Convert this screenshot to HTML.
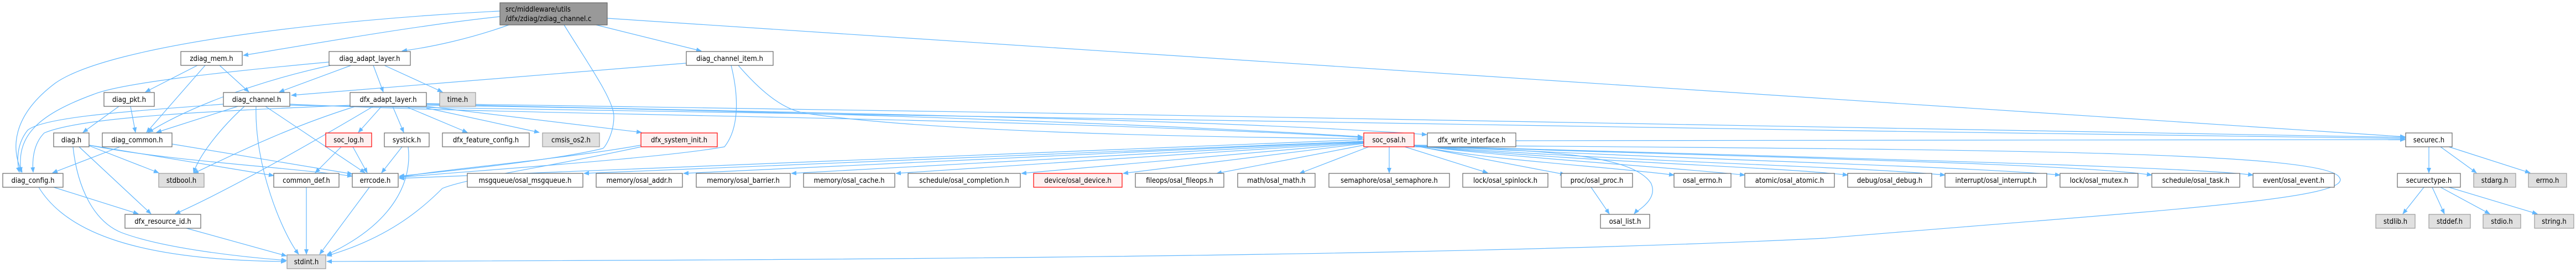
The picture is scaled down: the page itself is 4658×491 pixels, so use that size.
<!DOCTYPE html>
<html><head><meta charset="utf-8"><style>
html,body{margin:0;padding:0;background:#fff;}
svg{display:block;}
text{font-family:"DejaVu Sans Condensed","DejaVu Sans","Liberation Sans",sans-serif;font-size:13px;fill:#000;}
.n{fill:#fff;stroke:#666;stroke-width:1.2;}
.g{fill:#e0e0e0;stroke:#999;stroke-width:1.2;}
.r{fill:#fff0f0;stroke:#f00;stroke-width:1.2;}
.m{fill:#999;stroke:#666;stroke-width:1.2;}
path{fill:none;stroke:#63b8ff;stroke-width:1.2;marker-end:url(#a);}
</style></head><body>
<svg width="4658" height="491" viewBox="0 0 4658 491" xmlns="http://www.w3.org/2000/svg">
<defs><marker id="a" markerWidth="10" markerHeight="8" refX="9" refY="4" orient="auto" markerUnits="userSpaceOnUse"><polygon points="0,0 10,4 0,8" fill="#63b8ff"/></marker></defs>
<g>
<path d="M904,20 C600,35 200,80 100,150 C20,210 20,270 40,311"/>
<path d="M904,30 C760,45 560,80 440,100"/>
<path d="M920,45 C850,70 780,85 727,92"/>
<path d="M1078,45 L1268,92"/>
<path d="M1098,33 L4349,247"/>
<path d="M1020,45 C1060,110 1110,180 1110,210 C1110,240 1095,265 1090,268 C1000,290 800,310 722,318"/>
<path d="M1241,114 L527,172"/>
<path d="M1322,118 C1335,170 1338,230 1310,265 C1200,285 900,305 722,320"/>
<path d="M1335,118 C1380,170 1420,200 1460,205 C1700,240 2200,248 2464,250"/>
<path d="M595,112 C400,130 220,150 170,170 C60,210 30,250 38,311"/>
<path d="M598,118 C450,150 330,200 268,239"/>
<path d="M635,118 L505,166"/>
<path d="M675,118 L693,166"/>
<path d="M695,118 L800,166"/>
<path d="M357,118 L263,166"/>
<path d="M371,118 L265,239"/>
<path d="M397,118 L450,166"/>
<path d="M404,188 C250,200 80,210 50,235 C30,260 30,290 35,311"/>
<path d="M430,192 L283,239"/>
<path d="M442,192 C400,230 360,280 350,312"/>
<path d="M463,192 C460,300 510,420 540,459"/>
<path d="M480,192 L660,312"/>
<path d="M524,188 C1000,210 1800,210 2464,248"/>
<path d="M524,190 C1500,215 3000,230 4349,250"/>
<path d="M633,190 C400,200 150,210 80,240 C60,260 58,290 60,311"/>
<path d="M643,192 C520,230 420,280 350,313"/>
<path d="M675,192 C560,260 420,340 317,386"/>
<path d="M690,192 L648,239"/>
<path d="M710,192 L730,239"/>
<path d="M733,192 L845,239"/>
<path d="M771,195 L975,239"/>
<path d="M771,192 L1160,239"/>
<path d="M771,190 C1500,200 2200,230 2464,247"/>
<path d="M771,188 C1500,205 2200,215 2580,243"/>
<path d="M771,187 C2000,205 3500,230 4349,248"/>
<path d="M215,192 L150,239"/>
<path d="M236,192 L245,239"/>
<path d="M161,263 L287,312"/>
<path d="M161,262 L495,317"/>
<path d="M161,262 C300,290 500,300 637,318"/>
<path d="M143,265 L273,386"/>
<path d="M132,265 C140,340 170,400 220,420 C300,450 450,465 518,470"/>
<path d="M217,265 L95,312"/>
<path d="M311,260 L637,314"/>
<path d="M617,265 L570,312"/>
<path d="M638,265 L664,312"/>
<path d="M727,265 L690,312"/>
<path d="M738,265 C745,320 720,400 591,460"/>
<path d="M97,338 L250,386"/>
<path d="M70,338 C120,420 250,470 517,472"/>
<path d="M554,338 L554,459"/>
<path d="M668,338 L578,459"/>
<path d="M337,412 L518,462"/>
<path d="M1159,262 C1000,290 800,305 722,320"/>
<path d="M1159,265 C1000,300 850,320 800,340 C760,380 700,430 591,462"/>
<path d="M2466,252 L722,322"/>
<path d="M2466,255 L1056,313"/>
<path d="M2466,255 L1236,313"/>
<path d="M2466,256 L1431,313"/>
<path d="M2466,257 L1620,313"/>
<path d="M2466,258 L1847,313"/>
<path d="M2466,259 L2031,313"/>
<path d="M2466,262 L2200,313"/>
<path d="M2475,265 L2350,313"/>
<path d="M2512,265 L2512,312"/>
<path d="M2540,265 L2690,312"/>
<path d="M2557,263 L2830,315"/>
<path d="M2557,263 C2700,290 2900,300 3027,316"/>
<path d="M2557,263 C2800,290 3000,300 3155,316"/>
<path d="M2557,263 C2900,295 3200,300 3341,316"/>
<path d="M2557,263 C3000,295 3350,300 3517,316"/>
<path d="M2557,263 C3100,290 3550,300 3725,316"/>
<path d="M2557,263 C3200,285 3750,295 3891,316"/>
<path d="M2557,263 C3300,285 3950,300 4074,316"/>
<path d="M2557,265 C2800,270 2950,280 2985,330 C3000,360 2960,380 2955,386"/>
<path d="M2557,262 C3500,270 4200,270 4230,320 C4260,360 3900,380 3300,430 C2500,470 1000,470 591,472"/>
<path d="M2877,338 L2910,386"/>
<path d="M2741,254 L4349,252"/>
<path d="M4392,265 L4392,312"/>
<path d="M4413,265 L4478,312"/>
<path d="M4428,265 L4575,312"/>
<path d="M4383,338 L4345,386"/>
<path d="M4398,338 L4420,386"/>
<path d="M4413,338 L4502,386"/>
<path d="M4428,338 L4588,386"/>
</g>
<g>
<rect class="m" x="904" y="5" width="194" height="40"/>
<text x="914" y="21">src/middleware/utils</text>
<text x="914" y="38">/dfx/zdiag/zdiag_channel.c</text>

<rect class="n" x="327" y="93" width="111" height="25"/><text x="382.5" y="110" text-anchor="middle">zdiag_mem.h</text>
<rect class="n" x="595" y="93" width="147" height="25"/><text x="668.5" y="110" text-anchor="middle">diag_adapt_layer.h</text>
<rect class="n" x="1241" y="93" width="157" height="25"/><text x="1319.5" y="110" text-anchor="middle">diag_channel_item.h</text>

<rect class="n" x="188" y="167" width="91" height="25"/><text x="233.5" y="184" text-anchor="middle">diag_pkt.h</text>
<rect class="n" x="404" y="167" width="120" height="25"/><text x="464" y="184" text-anchor="middle">diag_channel.h</text>
<rect class="n" x="633" y="167" width="138" height="25"/><text x="702" y="184" text-anchor="middle">dfx_adapt_layer.h</text>
<rect class="g" x="795" y="167" width="65" height="25"/><text x="827.5" y="184" text-anchor="middle">time.h</text>

<rect class="n" x="97" y="240" width="64" height="25"/><text x="129" y="257" text-anchor="middle">diag.h</text>
<rect class="n" x="185" y="240" width="126" height="25"/><text x="248" y="257" text-anchor="middle">diag_common.h</text>
<rect class="r" x="589" y="240" width="83" height="25"/><text x="630.5" y="257" text-anchor="middle">soc_log.h</text>
<rect class="n" x="695" y="240" width="81" height="25"/><text x="735.5" y="257" text-anchor="middle">systick.h</text>
<rect class="n" x="800" y="240" width="157" height="25"/><text x="878.5" y="257" text-anchor="middle">dfx_feature_config.h</text>
<rect class="g" x="981" y="240" width="103" height="25"/><text x="1032.5" y="257" text-anchor="middle">cmsis_os2.h</text>
<rect class="r" x="1159" y="240" width="138" height="25"/><text x="1228" y="257" text-anchor="middle">dfx_system_init.h</text>
<rect class="r" x="2466" y="240" width="91" height="25"/><text x="2511.5" y="257" text-anchor="middle">soc_osal.h</text>
<rect class="n" x="2581" y="240" width="160" height="25"/><text x="2661" y="257" text-anchor="middle">dfx_write_interface.h</text>
<rect class="n" x="4350" y="240" width="84" height="25"/><text x="4392" y="257" text-anchor="middle">securec.h</text>

<rect class="n" x="5" y="313" width="109" height="25"/><text x="59.5" y="330" text-anchor="middle">diag_config.h</text>
<rect class="g" x="287" y="313" width="82" height="25"/><text x="328" y="330" text-anchor="middle">stdbool.h</text>
<rect class="n" x="495" y="313" width="118" height="25"/><text x="554" y="330" text-anchor="middle">common_def.h</text>
<rect class="n" x="637" y="313" width="83" height="25"/><text x="678.5" y="330" text-anchor="middle">errcode.h</text>
<rect class="n" x="845" y="313" width="209" height="25"/><text x="949.5" y="330" text-anchor="middle">msgqueue/osal_msgqueue.h</text>
<rect class="n" x="1078" y="313" width="156" height="25"/><text x="1156" y="330" text-anchor="middle">memory/osal_addr.h</text>
<rect class="n" x="1259" y="313" width="170" height="25"/><text x="1344" y="330" text-anchor="middle">memory/osal_barrier.h</text>
<rect class="n" x="1453" y="313" width="165" height="25"/><text x="1535.5" y="330" text-anchor="middle">memory/osal_cache.h</text>
<rect class="n" x="1642" y="313" width="203" height="25"/><text x="1743.5" y="330" text-anchor="middle">schedule/osal_completion.h</text>
<rect class="r" x="1869" y="313" width="160" height="25"/><text x="1949" y="330" text-anchor="middle">device/osal_device.h</text>
<rect class="n" x="2053" y="313" width="160" height="25"/><text x="2133" y="330" text-anchor="middle">fileops/osal_fileops.h</text>
<rect class="n" x="2238" y="313" width="140" height="25"/><text x="2308" y="330" text-anchor="middle">math/osal_math.h</text>
<rect class="n" x="2403" y="313" width="218" height="25"/><text x="2512" y="330" text-anchor="middle">semaphore/osal_semaphore.h</text>
<rect class="n" x="2645" y="313" width="154" height="25"/><text x="2722" y="330" text-anchor="middle">lock/osal_spinlock.h</text>
<rect class="n" x="2823" y="313" width="129" height="25"/><text x="2887.5" y="330" text-anchor="middle">proc/osal_proc.h</text>
<rect class="n" x="3027" y="313" width="103" height="25"/><text x="3078.5" y="330" text-anchor="middle">osal_errno.h</text>
<rect class="n" x="3155" y="313" width="162" height="25"/><text x="3236" y="330" text-anchor="middle">atomic/osal_atomic.h</text>
<rect class="n" x="3341" y="313" width="152" height="25"/><text x="3417" y="330" text-anchor="middle">debug/osal_debug.h</text>
<rect class="n" x="3517" y="313" width="184" height="25"/><text x="3609" y="330" text-anchor="middle">interrupt/osal_interrupt.h</text>
<rect class="n" x="3725" y="313" width="141" height="25"/><text x="3795.5" y="330" text-anchor="middle">lock/osal_mutex.h</text>
<rect class="n" x="3891" y="313" width="159" height="25"/><text x="3970.5" y="330" text-anchor="middle">schedule/osal_task.h</text>
<rect class="n" x="4074" y="313" width="147" height="25"/><text x="4147.5" y="330" text-anchor="middle">event/osal_event.h</text>
<rect class="n" x="4335" y="313" width="114" height="25"/><text x="4392" y="330" text-anchor="middle">securectype.h</text>
<rect class="g" x="4473" y="313" width="76" height="25"/><text x="4511" y="330" text-anchor="middle">stdarg.h</text>
<rect class="g" x="4572" y="313" width="69" height="25"/><text x="4606.5" y="330" text-anchor="middle">errno.h</text>

<rect class="n" x="226" y="387" width="137" height="25"/><text x="294.5" y="404" text-anchor="middle">dfx_resource_id.h</text>
<rect class="n" x="2894" y="387" width="89" height="25"/><text x="2938.5" y="404" text-anchor="middle">osal_list.h</text>
<rect class="g" x="4296" y="387" width="71" height="25"/><text x="4331.5" y="404" text-anchor="middle">stdlib.h</text>
<rect class="g" x="4392" y="387" width="75" height="25"/><text x="4429.5" y="404" text-anchor="middle">stddef.h</text>
<rect class="g" x="4490" y="387" width="68" height="25"/><text x="4524" y="404" text-anchor="middle">stdio.h</text>
<rect class="g" x="4583" y="387" width="71" height="25"/><text x="4618.5" y="404" text-anchor="middle">string.h</text>

<rect class="g" x="519" y="460" width="70" height="25"/><text x="554" y="477" text-anchor="middle">stdint.h</text>
</g>
</svg>
</body></html>
